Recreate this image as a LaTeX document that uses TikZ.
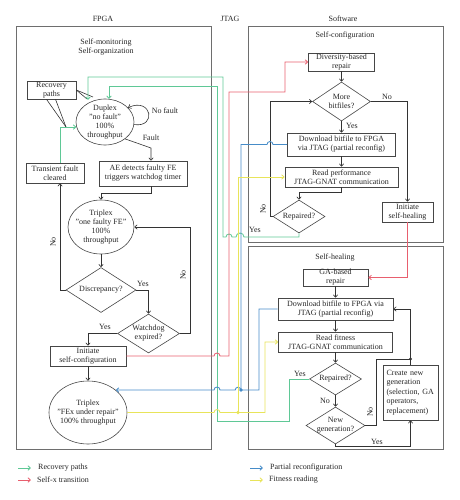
\documentclass[tikz,border=0pt]{standalone}
\usepackage{fontspec}
\setmainfont{Liberation Serif}
\usetikzlibrary{shapes.geometric,arrows.meta}
\definecolor{grn}{RGB}{95,200,150}
\definecolor{rdc}{RGB}{232,95,110}
\definecolor{blu}{RGB}{70,140,200}
\definecolor{yel}{RGB}{232,228,90}
\definecolor{boxc}{RGB}{70,70,70}
\definecolor{framec}{RGB}{110,110,110}
\begin{document}
\begin{tikzpicture}[x=1pt,y=-1pt,
  every node/.style={font=\fontsize{8}{9}\selectfont, inner sep=0pt, text=black!85},
  box/.style={draw=boxc, line width=0.6pt, rectangle, align=center},
  dia/.style={draw=boxc, line width=0.6pt, diamond},
  ell/.style={draw=boxc, line width=0.6pt, ellipse},
  frame/.style={draw=framec, line width=0.9pt},
  ln/.style={line width=0.6pt, draw=black!80},
  arr/.style={-{Straight Barb[length=2.5pt,width=4.5pt]}},
  cl/.style={line width=0.85pt},
  lbl/.style={align=center}]
\useasboundingbox (0,0) rectangle (459,500);

% frames and titles
\draw[frame] (16,26) rectangle (211,449);
\draw[frame] (248,26) rectangle (443,242);
\draw[frame] (248,246) rectangle (443,449);
\node (tfpga) at (103,19) {FPGA};
\node (tjtag) at (230,19) {JTAG};
\node (tsw) at (343,19) {Software};
\node[lbl] (tsmso) at (106,47.5) {Self-monitoring\\Self-organization};
\node (tsc) at (345,36) {Self-configuration};
\node (tsh) at (335,258) {Self-healing};

% FPGA nodes
\node[box, minimum width=49pt, minimum height=18pt] (rp) at (51.5,90) {Recovery\\paths};
\node[ell, minimum width=58pt, minimum height=46pt, label={[lbl]center:{Duplex\\"no fault"\\100\%\\throughput}}] (dup) at (105,122) {};
\node[box, minimum width=58pt, minimum height=20pt] (trans) at (55,173) {Transient fault\\cleared};
\node[box, minimum width=88pt, minimum height=25pt] (ae) at (143,173.5) {AE detects faulty FE\\triggers watchdog timer};
\node[ell, minimum width=66pt, minimum height=54pt, label={[lbl]center:{Triplex\\"one faulty FE"\\100\%\\throughput}}] (trip1) at (101,227) {};
\node[dia, minimum width=70pt, minimum height=45pt, label={[lbl]center:{Discrepancy?}}] (disc) at (101,290) {};
\node[dia, minimum width=62pt, minimum height=39pt, label={[lbl]center:{Watchdog\\expired?}}] (wd) at (148.5,333.5) {};
\node[box, minimum width=76pt, minimum height=20pt] (initsc) at (88,356) {Initiate\\self-configuration};
\node[ell, minimum width=78pt, minimum height=63pt, label={[lbl]center:{Triplex\\"FEx under repair"\\100\% throughput}}] (trip2) at (88,412.5) {};

% Software: self-configuration
\node[box, minimum width=66pt, minimum height=18pt] (div) at (341.5,62) {Diversity-based\\repair};
\node[dia, minimum width=58pt, minimum height=39pt, label={[lbl]center:{More\\bitfiles?}}] (mb) at (341.5,101.5) {};
\node[box, minimum width=108pt, minimum height=23pt] (dlsc) at (341.5,144.5) {Download bitfile to FPGA\\via JTAG (partial reconfig)};
\node[box, minimum width=113pt, minimum height=20pt] (rdsc) at (341.5,177) {Read performance\\JTAG-GNAT communication};
\node[dia, minimum width=52pt, minimum height=33pt, label={[lbl]center:{Repaired?}}] (repsc) at (299,216.5) {};
\node[box, minimum width=51pt, minimum height=20pt] (initsh) at (407.5,212) {Initiate\\self-healing};

% Software: self-healing
\node[box, minimum width=65pt, minimum height=17pt] (ga) at (335.5,277.5) {GA-based\\repair};
\node[box, minimum width=115pt, minimum height=22pt] (dlsh) at (335.5,309) {Download bitfile to FPGA via\\JTAG (partial reconfig)};
\node[box, minimum width=114pt, minimum height=20pt] (rdsh) at (335.5,342) {Read fitness\\JTAG-GNAT communication};
\node[dia, minimum width=52pt, minimum height=32pt, label={[lbl]center:{Repaired?}}] (repsh) at (335.5,379) {};
\node[dia, minimum width=59pt, minimum height=37pt, label={[lbl]center:{New\\generation?}}] (ng) at (335.5,425.5) {};
\node[box, minimum width=55pt, minimum height=55pt, text width=48pt, align=left, font=\fontsize{8}{9.6}\selectfont] (cng) at (410.5,392.5) {Create new\\generation\\(selection, GA\\operators,\\replacement)};

% coordinates
\coordinate (gA) at (88,100);
\coordinate (gB) at (109,99);
\coordinate (fk) at (151,148);
\coordinate (cA) at (87,99);
\coordinate (cB) at (93,97);
\coordinate (cC) at (66,127);
\coordinate (jd) at (410.5,359);

% FPGA black connectors
\draw[ln,arr] (dup.-5) .. controls (157,128) and (152,97) .. (dup.32);
\node (tnf) at (165,111) {No fault};
\draw[ln,arr] (dup.-40) -- (fk) -- (fk |- ae.north);
\node (tfault) at (151,138) {Fault};
\draw[ln,arr] (fk |- ae.south) -- ++(0,7) -| (trip1.north);
\draw[ln,arr] (trip1.south) -- (disc.north);
\draw[ln,arr] (disc.west) -| ([xshift=5pt]trans.south);
\node[rotate=90] (tno1) at (53,242) {No};
\draw[ln,arr] (disc.east) -| (wd.north);
\node (tyes1) at (143,284) {Yes};
\draw[ln,arr] (wd.east) -- ++(10,0) |- (trip1.east);
\node[rotate=90] (tno2) at (183,275) {No};
\draw[ln,arr] (wd.west) -| (initsc.north);
\node (tyes2) at (105,327) {Yes};
\draw[ln,arr] (initsc.south) -- (trip2.north);
\draw[ln] (rp.east) -- (cA);
\draw[ln] (rp.east) -- (cB);
\draw[ln] ([xshift=-5pt]rp.south) -- (cC);
\draw[ln] ([xshift=4pt]rp.south) -- (cC);

% Self-configuration connectors
\draw[ln,arr] (div.south) -- (mb.north);
\draw[ln,arr] (mb.south) -- (dlsc.north);
\node (tyes3) at (352,126) {Yes};
\draw[ln,arr] (mb.east) -| (initsh.north);
\node (tno3) at (387,97) {No};
\draw[ln,arr] (dlsc.south) -- (rdsc.north);
\draw[ln,arr] (rdsc.south) -- ++(0,5) -| (repsc.north);
\draw[ln,arr] (repsc.west) -- (270,216.5) |- (mb.west);
\node[rotate=90] (tno4) at (263,209) {No};
\node (tyes4) at (255,230) {Yes};

% Self-healing connectors
\draw[ln,arr] (ga.south) -- (dlsh.north);
\draw[ln,arr] (dlsh.south) -- (rdsh.north);
\draw[ln,arr] (rdsh.south) -- (repsh.north);
\draw[ln,arr] (repsh.south) -- (ng.north);
\node (tno5) at (325,401) {No};
\draw[ln] (ng.east) -- (376,425.5) |- (jd);
\node[rotate=90] (tno6) at (370,412) {No};
\draw[ln,arr] (cng.north) -- (jd) |- (dlsh.east);
\fill[black!80] (jd) circle (1.7pt);
\draw[ln,arr] (ng.south) -- (335.5,446) -| (cng.south);
\node (tyes6) at (377,442) {Yes};
\node (tyes5) at (300,374) {Yes};

% Green recovery paths
\draw[grn,cl,arr] ([xshift=5pt]trans.north) |- (dup.190);
\draw[grn,cl,arr] (repsc.south) -- (299,237) -- (244,237) arc[start angle=0,end angle=180,radius=4pt] -- (232,237) arc[start angle=0,end angle=180,radius=3pt] -- (223,237) -- (223,77) -| (gA);
\draw[grn,cl,arr] (repsh.west) -- (289,379) -- (289,421) -- (217,421) -- (217,86) -| (gB);

% Red self-x transitions
\draw[rdc,cl,arr] (initsc.east) -- (214,356) arc[start angle=180,end angle=0,radius=3pt] -- (229,356) -- (229,92) -- (285,92) -- (285,62) -- (div.west);
\draw[rdc,cl,arr] (initsh.south) |- (ga.east);

% Blue partial reconfiguration
\draw[blu,cl] (dlsc.west) -- (273,144.5) arc[start angle=0,end angle=180,radius=3pt] -- (241,144.5) -- (241,390);
\draw[blu,cl,arr] (dlsh.west) -- (259,309) -- (259,390) -- (240.8,390) arc[start angle=0,end angle=180,radius=2.8pt] -- (220,390) arc[start angle=0,end angle=180,radius=3pt] -- (trip2.39);
\fill[blu] (241,390) circle (1.8pt);

% Yellow fitness reading
\draw[yel,cl,arr] (trip2.east) -- (214,412.5) arc[start angle=180,end angle=0,radius=3pt] -- (265,412.5) -- (265,342) -- (rdsh.west);
\draw[yel,cl,arr] (238,412.5) -- (238,177) -- (rdsc.west);
\fill[yel] (238,412.5) circle (1.8pt);

% Legend
\coordinate (l1a) at (18,468); \coordinate (l1b) at (31,468);
\coordinate (l2a) at (18,480); \coordinate (l2b) at (31,480);
\coordinate (l3a) at (250,468); \coordinate (l3b) at (263,468);
\coordinate (l4a) at (250,480); \coordinate (l4b) at (263,480);
\draw[grn,cl,arr] (l1a) -- (l1b);
\draw[rdc,cl,arr] (l2a) -- (l2b);
\draw[blu,cl,arr] (l3a) -- (l3b);
\draw[yel,cl,arr] (l4a) -- (l4b);
\node[anchor=west] (lg1) at (38,468) {Recovery paths};
\node[anchor=west] (lg2) at (37,480) {Self-x transition};
\node[anchor=west] (lg3) at (270,468) {Partial reconfiguration};
\node[anchor=west] (lg4) at (269,480) {Fitness reading};
\end{tikzpicture}
\end{document}
